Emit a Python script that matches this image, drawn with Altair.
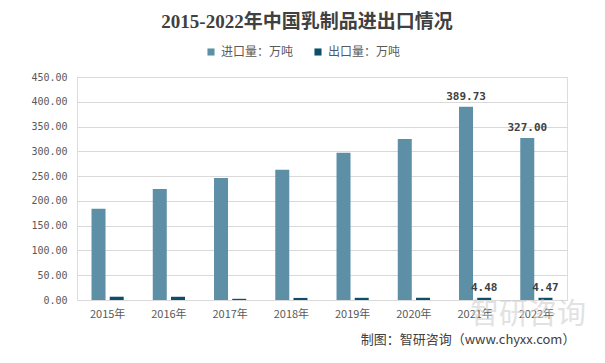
import altair as alt
import pandas as pd

years = ["2015年", "2016年", "2017年", "2018年", "2019年", "2020年", "2021年", "2022年"]
imports = [184.0, 224.0, 246.0, 263.0, 297.0, 325.0, 389.73, 327.00]
exports = [6.6, 6.5, 2.4, 4.2, 4.4, 4.5, 4.48, 4.47]
series = ["进口量：万吨", "出口量：万吨"]
label_years = ["2021年", "2022年"]
y_ticks = [0, 50, 100, 150, 200, 250, 300, 350, 400, 450]

rows = []
for i, y in enumerate(years):
    rows.append({"year": y, "series": series[0], "value": imports[i],
                 "label": f"{imports[i]:.2f}" if y in label_years else ""})
    rows.append({"year": y, "series": series[1], "value": exports[i],
                 "label": f"{exports[i]:.2f}" if y in label_years else ""})
df = pd.DataFrame(rows)

colors = ["#5D8FA7", "#0D4F6A"]

x = alt.X("year:N", sort=years, title=None,
          scale=alt.Scale(paddingInner=0.48, paddingOuter=0.24),
          axis=alt.Axis(labelAngle=0, labelFont="Noto Sans CJK SC", labelFontSize=11,
                        labelColor="#595959", ticks=False, domainColor="#D9D9D9",
                        labelPadding=8, grid=False))
xo = alt.XOffset("series:N", sort=series, scale=alt.Scale(paddingInner=0.25))
y = alt.Y("value:Q", title=None,
          scale=alt.Scale(domain=[0, 450], nice=False),
          axis=alt.Axis(values=y_ticks, format=".2f", tickCount=10,
                        labelOverlap=False,
                        labelFont="DejaVu Sans Mono", labelFontSize=10,
                        labelColor="#595959", ticks=False, domain=False,
                        gridColor="#D9D9D9", labelPadding=10))

bars = alt.Chart(df).mark_bar(size=14).encode(
    x=x, xOffset=xo, y=y,
    color=alt.Color("series:N", sort=series,
                    scale=alt.Scale(domain=series, range=colors),
                    legend=alt.Legend(title=None, orient="none", direction="horizontal",
                                      legendX=128, legendY=-31, symbolType="square",
                                      symbolSize=50, labelFont="Noto Sans CJK SC",
                                      labelFontSize=12, labelColor="#595959",
                                      columnPadding=18, symbolStrokeWidth=0)),
)

labels = alt.Chart(df).mark_text(baseline="bottom", dy=-5, fontWeight="bold",
                                 font="DejaVu Sans Mono", fontSize=11,
                                 color="#404040").encode(
    x=x, xOffset=xo, y=y, text="label:N")

footer_df = pd.DataFrame({"t": ["制图：智研咨询（www.chyxx.com）"]})
footer = alt.Chart(footer_df).mark_text(font="Noto Sans CJK SC", fontSize=13,
                                        color="#404040", align="center",
                                        baseline="middle").encode(
    x=alt.value(391), y=alt.value(263), text="t:N")

wm_df = pd.DataFrame({"t": ["智研咨询"]})
watermark = alt.Chart(wm_df).mark_text(font="Noto Sans CJK SC", fontSize=29,
                                       color="#CFCFCF", opacity=0.6, align="center",
                                       baseline="middle").encode(
    x=alt.value(451), y=alt.value(238), text="t:N")

chart = alt.layer(bars, labels, watermark, footer).properties(
    width=490, height=223,
    autosize=alt.AutoSizeParams(type="none"),
    padding={"left": 69, "top": 69, "right": 30, "bottom": 55},
    title=alt.TitleParams("2015-2022年中国乳制品进出口情况",
                          font="Liberation Serif, Noto Sans CJK SC", fontSize=19,
                          fontWeight="bold", color="#404040", anchor="middle",
                          dx=-15, offset=14),
).configure_view(stroke=None).configure(background="white")

chart.save("out.html", embed_options={"renderer": "svg", "actions": False})
